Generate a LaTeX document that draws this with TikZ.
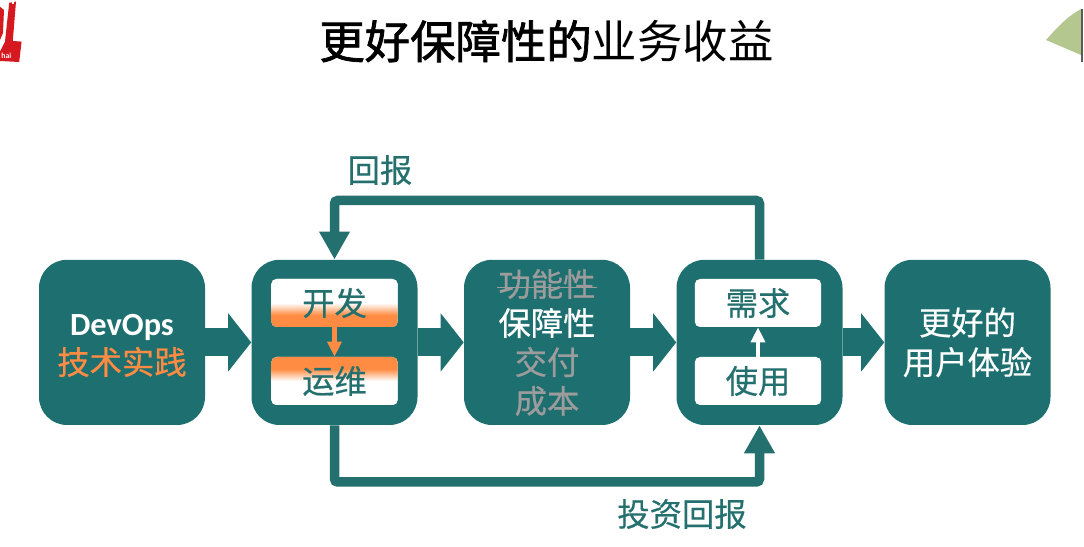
\documentclass[tikz,border=0pt]{standalone}
\usepackage{fontspec}
\usepackage{xcolor}
\usepackage{tikz}
\usetikzlibrary{arrows.meta}
\setmainfont{Noto Sans CJK SC}
\newfontfamily\calibrilike{Carlito}
\newfontfamily\heavycjk[FakeBold=1.6]{Noto Sans CJK SC}
\newfontfamily\firmcjk[FakeBold=0.5]{Noto Sans CJK SC}
\definecolor{tealbox}{RGB}{30,111,112}
\definecolor{tealline}{RGB}{36,112,111}
\definecolor{warmorange}{RGB}{255,140,66}
\definecolor{fadedgray}{RGB}{156,156,156}
\definecolor{logored}{RGB}{214,24,32}
\definecolor{leafgreen}{RGB}{179,199,143}
\definecolor{edgegray}{RGB}{90,90,90}
\pgfdeclareverticalshading{fadebottom}{100bp}{color(0bp)=(warmorange); color(37.5bp)=(warmorange); color(50bp)=(white); color(100bp)=(white)}
\pgfdeclareverticalshading{fadetop}{100bp}{color(0bp)=(white); color(50bp)=(white); color(62.5bp)=(warmorange); color(100bp)=(warmorange)}
\tikzset{
  stage/.style={fill=tealbox, rounded corners=0.7cm, minimum width=4.15cm,
    minimum height=4.13cm, inner sep=0pt, align=center, text=white,
    font=\firmcjk\fontsize{23}{28.2}\selectfont},
  inbox/.style={fill=white, rounded corners=0.13cm, minimum width=3.16cm,
    minimum height=1.2cm, inner sep=0pt, text=tealline,
    font=\firmcjk\fontsize{23}{28}\selectfont},
  word/.style={inner sep=0pt, font=\firmcjk\fontsize{23}{28}\selectfont},
  flow/.style={-{Triangle[length=0.575cm,width=1.425cm]}, line width=0.7cm, color=tealbox},
  loopback/.style={-{Triangle[length=0.7cm,width=0.725cm]}, line width=0.2375cm,
    color=tealline, rounded corners=0.08cm},
  minor/.style={-{Triangle[length=0.38cm,width=0.35cm]}, line width=0.12cm},
}

\begin{document}
\begin{tikzpicture}[>=Stealth]

  \useasboundingbox (0,0) rectangle (27.1,13.65);

  % corner marks of the slide
  \fill[logored] (.23,13.58) -- (.4,13.61) -- (.32,12.625) -- (.54,12.61) -- (.48,12.1)
    -- (0,12.125) -- (0,12.36) -- (.125,12.61) -- cycle;
  \fill[logored] (0,13.48) -- (.1,13.4) -- (.075,12.825) -- (0,12.65) -- cycle;
  \fill[white] (.3,13.55) rectangle (.35,13.59);
  \node[inner sep=0pt, text=white, font=\fontsize{5.5}{6}\calibrilike\bfseries] (city) at (.16,12.25) {hai};
  \fill[leafgreen] (26.15,12.65) .. controls (26.5,13.05) and (26.75,13.28) .. (27.025,13.425)
    -- (27.025,12.275) -- cycle;
  \fill[edgegray] (27.035,12.1) rectangle (27.07,13.425);

  \node[inner sep=0pt, font=\fontsize{32.3}{38}\selectfont] (title) at (13.66,12.62)
    {{\heavycjk 更好保障性的}业务收益};

  \node[stage] (practice) at (3.05,5.09)
    {\raisebox{-2.8pt}[\height][\depth]{\calibrilike\bfseries DevOps}\\\raisebox{-2pt}[\height][\depth]{\textcolor{warmorange}{技术实践}}};
  \node[stage] (devops)   at (8.3625,5.09) {};
  \node[stage] (goals)    at (13.675,5.09) {};
  \node[stage] (market)   at (18.9875,5.09) {};
  \node[stage] (better)   at (24.1875,5.09) {更好的\\用户体验};

  \node[inbox, shade, shading=fadebottom] (dev) at (8.3625,6.075) {开发};
  \node[inbox, shade, shading=fadetop]    (ops) at (8.3625,4.125) {运维};
  \node[inbox] (need) at (18.95,6.075) {需求};
  \node[inbox] (use)  at (18.95,4.125) {使用};

  \node[word, text=fadedgray] (func)   at (13.675,6.55)  {功能性};
  \node[word, text=white]     (assure) at (13.675,5.575) {保障性};
  \node[word, text=fadedgray] (ship)   at (13.675,4.6)   {交付};
  \node[word, text=fadedgray] (cost)   at (13.675,3.625) {成本};
  \draw[fadedgray, line width=0.6pt] ([xshift=-1pt,yshift=-2.5pt]func.west) -- ([xshift=1pt,yshift=-2.5pt]func.east);

  \node[word, text=tealline] (payback) at (9.5,9.4)  {回报};
  \node[word, text=tealline] (invest)  at (17.05,0.8) {投资回报};

  \coordinate (toprun) at (13.675,8.6375);
  \coordinate (lowrun) at (13.675,1.6);

  \draw[flow] (practice) -- (devops);
  \draw[flow] (devops) -- (goals);
  \draw[flow] (goals) -- (market);
  \draw[flow] (market) -- (better);

  \draw[loopback] (market.north) |- (toprun) -| (devops.north);
  \draw[loopback] (devops.south) |- (lowrun) -| (market.south);

  \draw[minor, color=warmorange] (dev) -- (ops);
  \draw[minor, color=white] (use) -- (need);

\end{tikzpicture}
\end{document}
